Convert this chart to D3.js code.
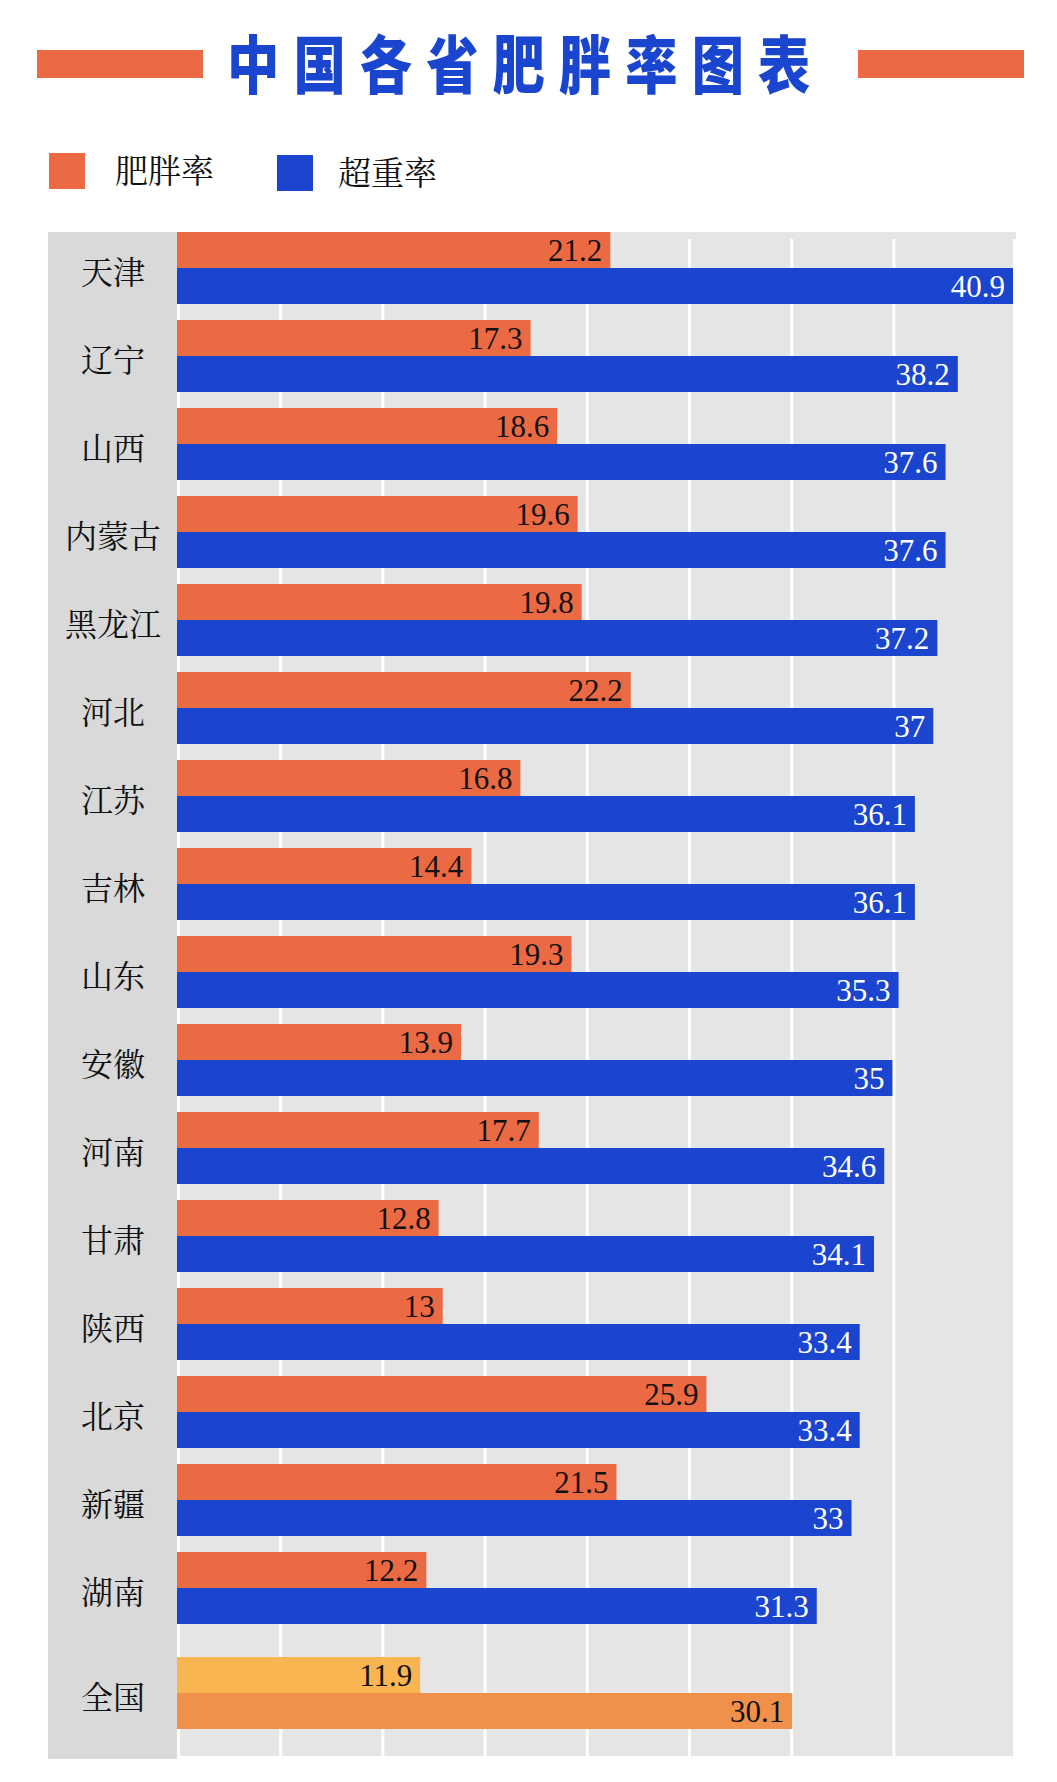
<!DOCTYPE html>
<html>
<head>
<meta charset="utf-8">
<script src="https://cdn.jsdelivr.net/npm/d3@7"></script>
<style>
  body { margin: 0; background: #fff; }
</style>
</head>
<body>
<div id="chart"></div>
<script>
// data
const provinces = ["天津", "辽宁", "山西", "内蒙古", "黑龙江", "河北", "江苏", "吉林", "山东", "安徽", "河南", "甘肃", "陕西", "北京", "新疆", "湖南", "全国"];
const obesity = [21.2, 17.3, 18.6, 19.6, 19.8, 22.2, 16.8, 14.4, 19.3, 13.9, 17.7, 12.8, 13, 25.9, 21.5, 12.2, 11.9];
const overweight = [40.9, 38.2, 37.6, 37.6, 37.2, 37, 36.1, 36.1, 35.3, 35, 34.6, 34.1, 33.4, 33.4, 33, 31.3, 30.1];
const seriesNames = ["肥胖率", "超重率"];
const gridTicks = [0, 5, 10, 15, 20, 25, 30, 35];

const W = 1057, H = 1782;
const plot = {left: 177, right: 1013, top: 232, bottom: 1756};
const colors = {obesity: "#ec6a43", overweight: "#1b44cf", natA: "#f8b552", natB: "#f0904a"};
const serifCJK = "'Noto Serif CJK SC','Source Han Serif SC','Songti SC','Noto Sans CJK SC',serif";

const svg = d3.select("#chart")
    .append("svg")
    .attr("width", W)
    .attr("height", H);

// title
svg.append("rect").attr("x", 37).attr("y", 50).attr("width", 166).attr("height", 28).attr("fill", colors.obesity);
svg.append("rect").attr("x", 858).attr("y", 50).attr("width", 166).attr("height", 28).attr("fill", colors.obesity);
svg.append("g")
    .attr("transform", "translate(227,88) scale(0.83,1)")
  .append("text")
    .attr("font-family", "'Noto Sans CJK SC',sans-serif")
    .attr("font-weight", 900)
    .attr("font-size", 63)
    .attr("letter-spacing", 17)
    .attr("fill", "#1a45cf")
    .text("中国各省肥胖率图表");

// legend
const legend = svg.append("g")
    .selectAll("g")
    .data(seriesNames)
    .enter().append("g")
      .attr("transform", (d, i) => `translate(${i === 0 ? 49 : 277}, ${i === 0 ? 153 : 155})`);

legend.append("rect")
    .attr("width", 36)
    .attr("height", 36)
    .attr("fill", (d, i) => i === 0 ? colors.obesity : colors.overweight);

legend.append("text")
    .attr("x", (d, i) => i === 0 ? 66 : 61)
    .attr("y", 18)
    .attr("dy", "0.36em")
    .attr("font-family", serifCJK)
    .attr("font-size", 33)
    .attr("fill", "#111")
    .text(d => d);

// scales
const x = d3.scaleLinear()
    .domain([0, 40.9])
    .range([plot.left, plot.right]);

const rows = provinces.map((p, i) => ({name: p, obesity: obesity[i], overweight: overweight[i], national: p === "全国"}));

const y = d3.scaleBand()
    .domain(provinces)
    .range([plot.top, plot.top + 17 * 88 - 16])
    .paddingInner(16 / 88)
    .paddingOuter(0);

// 全国 sits a bit lower than the rest
const rowY = d => y(d.name) + (d.national ? 17 : 0);

const yInner = d3.scaleBand()
    .domain(["obesity", "overweight"])
    .range([0, y.bandwidth()]);

// backgrounds
svg.append("rect")
    .attr("x", 48).attr("y", plot.top)
    .attr("width", plot.left - 48).attr("height", 1759 - plot.top)
    .attr("fill", "#d9d9d9");
svg.append("rect")
    .attr("x", plot.left).attr("y", plot.top)
    .attr("width", plot.right - plot.left).attr("height", plot.bottom - plot.top)
    .attr("fill", "#e5e5e5");
svg.append("rect")
    .attr("x", plot.left).attr("y", plot.top)
    .attr("width", plot.right - plot.left + 3).attr("height", 7)
    .attr("fill", "#e5e5e5");

// grid lines
svg.append("g")
    .selectAll("line")
    .data(gridTicks)
    .enter().append("line")
      .attr("x1", d => x(d) + 1.5)
      .attr("x2", d => x(d) + 1.5)
      .attr("y1", plot.top + 7)
      .attr("y2", d => d === 0 ? 1759 : plot.bottom)
      .attr("stroke", "#fff")
      .attr("stroke-width", 3);

// province labels
svg.append("g")
    .selectAll("text")
    .data(rows)
    .enter().append("text")
      .attr("x", 113)
      .attr("y", d => rowY(d) + y.bandwidth() / 2 + 4)
      .attr("dy", "0.36em")
      .attr("text-anchor", "middle")
      .attr("font-family", serifCJK)
      .attr("font-size", 32)
      .attr("fill", "#111")
      .text(d => d.name);

// bars
const keys = ["obesity", "overweight"];
const groups = svg.append("g")
    .selectAll("g")
    .data(rows)
    .enter().append("g")
      .attr("transform", d => `translate(0, ${rowY(d)})`);

const barColor = (d, k) => d.national ? (k === "obesity" ? colors.natA : colors.natB) : colors[k];

groups.selectAll("rect")
    .data(d => keys.map(k => ({key: k, value: d[k], row: d})))
    .enter().append("rect")
      .attr("x", x(0))
      .attr("y", d => yInner(d.key))
      .attr("width", d => x(d.value) - x(0))
      .attr("height", yInner.bandwidth())
      .attr("fill", d => barColor(d.row, d.key));

groups.selectAll("text")
    .data(d => keys.map(k => ({key: k, value: d[k], row: d})))
    .enter().append("text")
      .attr("x", d => x(d.value) - 8)
      .attr("y", d => yInner(d.key) + yInner.bandwidth() / 2)
      .attr("dy", "0.35em")
      .attr("text-anchor", "end")
      .attr("font-family", "'Liberation Serif','DejaVu Serif',serif")
      .attr("font-size", 31)
      .attr("fill", d => (d.key === "overweight" && !d.row.national) ? "#fff" : "#111")
      .text(d => d.value);
</script>
</body>
</html>
